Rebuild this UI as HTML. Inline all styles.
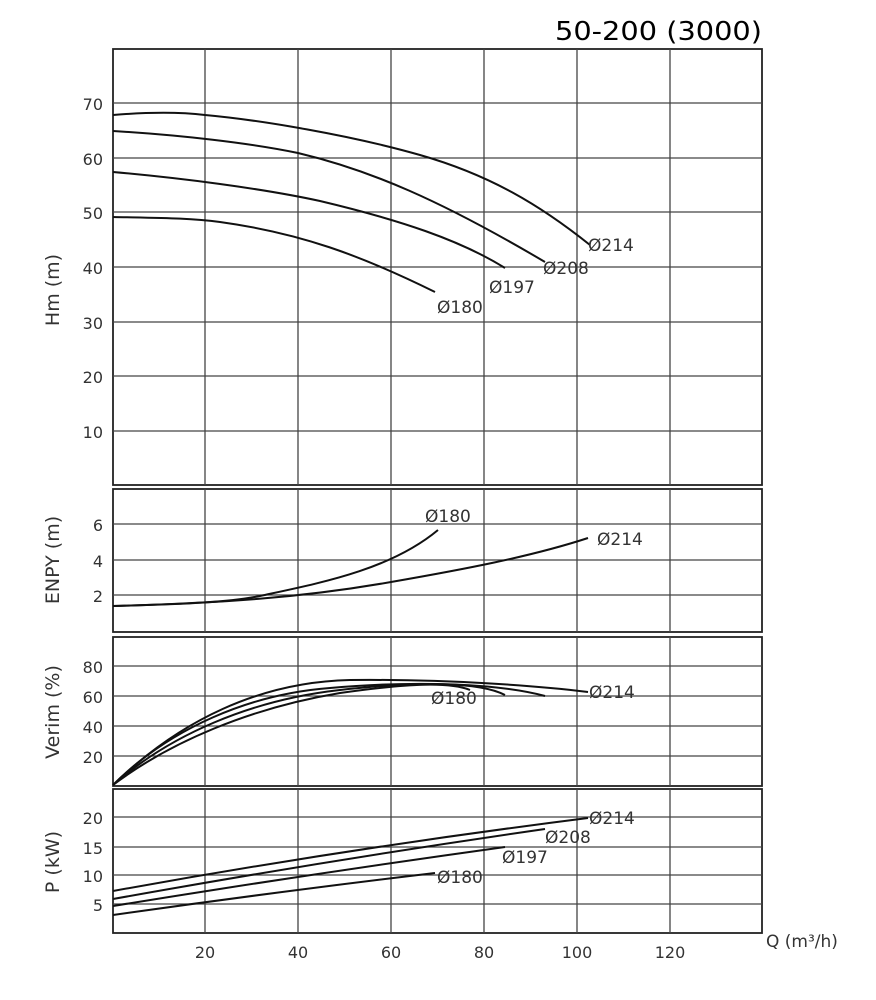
<!DOCTYPE html>
<html><head><meta charset="utf-8"><style>
body{margin:0;background:#fff}
svg{display:block}
text{font-family:"DejaVu Sans","Liberation Sans",sans-serif;fill:#333}
.g{stroke:#444;stroke-width:1.3;fill:none}
.b{stroke:#222;stroke-width:1.8;fill:none}
.c{stroke:#111;stroke-width:2;fill:none}
.t{font-size:16px;fill:#444}
.l{font-size:17px;fill:#333}
</style></head><body>
<svg width="876" height="1000" viewBox="0 0 876 1000">
<text x="555" y="40" textLength="207" lengthAdjust="spacingAndGlyphs" style="font-family:'DejaVu Sans',sans-serif;font-size:26px;fill:#000">50-200 (3000)</text>
<!-- panels -->
<rect class="b" x="113" y="49" width="649" height="436"/>
<rect class="b" x="113" y="489" width="649" height="143"/>
<rect class="b" x="113" y="637" width="649" height="149"/>
<rect class="b" x="113" y="789" width="649" height="144"/>
<g class="g">
<path d="M205 49V485M298 49V485M391 49V485M484 49V485M577 49V485M670 49V485"/>
<path d="M205 489V632M298 489V632M391 489V632M484 489V632M577 489V632M670 489V632"/>
<path d="M205 637V786M298 637V786M391 637V786M484 637V786M577 637V786M670 637V786"/>
<path d="M205 789V933M298 789V933M391 789V933M484 789V933M577 789V933M670 789V933"/>
<path d="M113 103H762M113 158H762M113 212H762M113 267H762M113 322H762M113 376H762M113 431H762"/>
<path d="M113 524H762M113 560H762M113 595H762"/>
<path d="M113 666H762M113 696H762M113 726H762M113 756H762"/>
<path d="M113 817H762M113 847H762M113 875H762M113 904H762"/>
</g>
<g class="t" text-anchor="end">
<text x="103" y="110">70</text><text x="103" y="165">60</text><text x="103" y="219">50</text><text x="103" y="274">40</text><text x="103" y="329">30</text><text x="103" y="383">20</text><text x="103" y="438">10</text>
<text x="103" y="531">6</text><text x="103" y="567">4</text><text x="103" y="602">2</text>
<text x="103" y="673">80</text><text x="103" y="703">60</text><text x="103" y="733">40</text><text x="103" y="763">20</text>
<text x="103" y="824">20</text><text x="103" y="854">15</text><text x="103" y="882">10</text><text x="103" y="911">5</text>
</g>
<g class="t" text-anchor="middle">
<text x="205" y="958">20</text><text x="298" y="958">40</text><text x="391" y="958">60</text><text x="484" y="958">80</text><text x="577" y="958">100</text><text x="670" y="958">120</text>
</g>
<text x="766" y="947" style="font-size:17px;fill:#333">Q (m³/h)</text>
<g style="font-size:19px;fill:#333" text-anchor="middle">
<text transform="translate(59,290) rotate(-90)">Hm (m)</text>
<text transform="translate(59,560) rotate(-90)">ENPY (m)</text>
<text transform="translate(59,712) rotate(-90)">Verim (%)</text>
<text transform="translate(59,862) rotate(-90)">P (kW)</text>
</g>
<!-- Hm curves -->
<path class="c" d="M113 115 C150 112 180 112 205 115 C260 120 350 135 420 155 C490 175 540 205 590 245"/>
<path class="c" d="M113 131 C180 135 250 143 298 153 C370 170 440 200 545 262"/>
<path class="c" d="M113 172 C180 178 260 188 320 201 C400 220 460 240 505 268"/>
<path class="c" d="M113 217 C160 218 190 218 220 222 C300 233 360 255 435 292"/>
<g class="l">
<text x="588" y="251">Ø214</text><text x="543" y="274">Ø208</text><text x="489" y="293">Ø197</text><text x="437" y="313">Ø180</text>
</g>
<!-- ENPY -->
<path class="c" d="M113 606 C190 604 230 602 260 596 C320 583 390 570 438 530"/>
<path class="c" d="M113 606 C220 603 300 598 391 582 C460 570 530 557 588 538"/>
<g class="l"><text x="425" y="522">Ø180</text><text x="597" y="545">Ø214</text></g>
<!-- Verim -->
<path class="c" d="M113 785 C180 720 260 682 350 680 C450 679 540 686 588 692"/>
<path class="c" d="M113 785 C170 728 250 694 330 688 C420 680 500 684 545 696"/>
<path class="c" d="M113 785 C170 735 250 700 340 690 C420 681 480 682 505 695"/>
<path class="c" d="M113 785 C170 742 250 708 340 693 C410 683 450 682 470 690"/>
<g class="l"><text x="431" y="704">Ø180</text><text x="589" y="698">Ø214</text></g>
<!-- P -->
<path class="c" d="M113 891 Q350 848 588 818"/>
<path class="c" d="M113 899 Q330 860 545 829"/>
<path class="c" d="M113 906 Q310 874 505 847"/>
<path class="c" d="M113 915 Q275 892 435 873"/>
<g class="l">
<text x="589" y="824">Ø214</text><text x="545" y="843">Ø208</text><text x="502" y="863">Ø197</text><text x="437" y="883">Ø180</text>
</g>
</svg>
</body></html>
